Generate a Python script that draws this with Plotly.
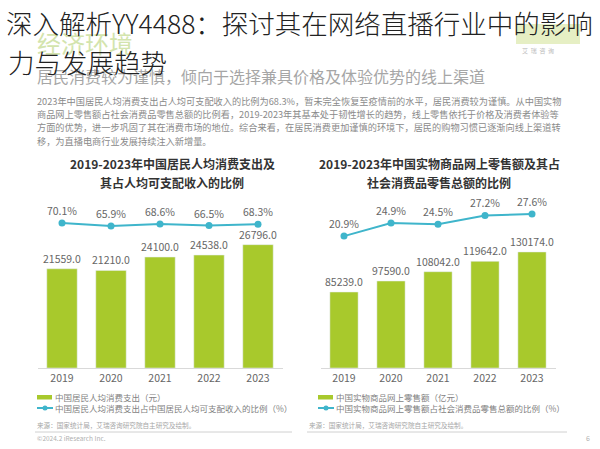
import plotly.graph_objects as go

# ---------------- data ----------------
years = ["2019", "2020", "2021", "2022", "2023"]
consumption = [21559.0, 21210.0, 24100.0, 24538.0, 26796.0]          # 元
consumption_ratio = [70.1, 65.9, 68.6, 66.5, 68.3]                   # %
online_sales = [85239.0, 97590.0, 108042.0, 119642.0, 130174.0]      # 亿元
online_ratio = [20.9, 24.9, 24.5, 27.2, 27.6]                        # %

main_title_1 = "深入解析YY4488：探讨其在网络直播行业中的影响"
main_title_2 = "力与发展趋势"
section = "经济环境"
subtitle = "居民消费较为谨慎，倾向于选择兼具价格及体验优势的线上渠道"
paragraph = [
    "2023年中国居民人均消费支出占人均可支配收入的比例为68.3%，暂未完全恢复至疫情前的水平，居民消费较为谨慎。从中国实物",
    "商品网上零售额占社会消费品零售总额的比例看，2019-2023年其基本处于韧性增长的趋势，线上零售依托于价格及消费者体验等",
    "方面的优势，进一步巩固了其在消费市场的地位。综合来看，在居民消费更加谨慎的环境下，居民的购物习惯已逐渐向线上渠道转",
    "移，为直播电商行业发展持续注入新增量。",
]
left_title = ["2019-2023年中国居民人均消费支出及", "其占人均可支配收入的比例"]
right_title = ["2019-2023年中国实物商品网上零售额及其占", "社会消费品零售总额的比例"]
left_legend = ["中国居民人均消费支出（元）", "中国居民人均消费支出占中国居民人均可支配收入的比例（%）"]
right_legend = ["中国实物商品网上零售额（亿元）", "中国实物商品网上零售额占社会消费品零售总额的比例（%）"]
source = "来源：国家统计局，艾瑞咨询研究院自主研究及绘制。"
copyright_txt = "©2024.2 iResearch Inc."

W, H = 600, 449
FONT = "Noto Sans CJK SC"
BAR = "#a8c92c"
LINE = "#3fb5cb"


def px(x):
    return x / W


def py(y):
    return 1 - y / H


fig = go.Figure()

fig.add_trace(go.Bar(x=years, y=consumption, marker_color=BAR, width=0.62,
                     text=[f"{v:.1f}" for v in consumption], textposition="outside",
                     constraintext="none",
                     textfont=dict(size=10.5, color="#666666"), cliponaxis=False,
                     xaxis="x", yaxis="y", showlegend=False))
fig.add_trace(go.Scatter(x=years, y=consumption_ratio, mode="lines+markers+text",
                         line=dict(color=LINE, width=2), marker=dict(size=7, color=LINE),
                         text=[f"{v:.1f}%" for v in consumption_ratio], textposition="top center",
                         textfont=dict(size=10.5, color="#666666"), cliponaxis=False,
                         xaxis="x", yaxis="y2", showlegend=False))
fig.add_trace(go.Bar(x=years, y=online_sales, marker_color=BAR, width=0.6,
                     text=[f"{v:.1f}" for v in online_sales], textposition="outside",
                     constraintext="none",
                     textfont=dict(size=10.5, color="#666666"), cliponaxis=False,
                     xaxis="x2", yaxis="y3", showlegend=False))
fig.add_trace(go.Scatter(x=years, y=online_ratio, mode="lines+markers+text",
                         line=dict(color=LINE, width=2), marker=dict(size=7, color=LINE),
                         text=[f"{v:.1f}%" for v in online_ratio], textposition="top center",
                         textfont=dict(size=10.5, color="#666666"), cliponaxis=False,
                         xaxis="x2", yaxis="y4", showlegend=False))

ydom = [py(368), py(200)]
xcommon = dict(type="category", showline=True, linecolor="#d9d9d9", linewidth=1,
               showgrid=False, zeroline=False, ticks="",
               tickfont=dict(size=10.5, color="#666666", family=FONT))
ycommon = dict(visible=False, showgrid=False, zeroline=False)

fig.update_layout(
    width=W, height=H, margin=dict(l=0, r=0, t=0, b=0),
    paper_bgcolor="white", plot_bgcolor="rgba(0,0,0,0)",
    font=dict(family=FONT),
    xaxis=dict(domain=[px(37.5), px(282.5)], anchor="y", **xcommon),
    yaxis=dict(domain=ydom, anchor="x", range=[0, 36500], **ycommon),
    yaxis2=dict(overlaying="y", anchor="x", range=[-134, 102.5], **ycommon),
    xaxis2=dict(domain=[px(320.5), px(555.5)], anchor="y3", **xcommon),
    yaxis3=dict(domain=ydom, anchor="x2", range=[0, 188500], **ycommon),
    yaxis4=dict(overlaying="y3", anchor="x2", range=[-19.3, 31.9], **ycommon),
)

ann = []
shapes = []


def text(x, y, s, size, color, anchor="left", bold=False, weight=None):
    f = dict(size=size, color=color, family=FONT)
    if weight is not None:
        f["weight"] = weight
    ann.append(dict(x=px(x), y=py(y), xref="paper", yref="paper", text=(f"<b>{s}</b>" if bold else s),
                    showarrow=False, xanchor=anchor, yanchor="middle", font=f))


# background page elements
shapes.append(dict(type="rect", xref="paper", yref="paper", x0=px(516), x1=px(580), y0=py(44), y1=py(24),
                   fillcolor="#e6efc4", line=dict(width=0), layer="below"))
text(520, 50, "艾  瑞  咨  询", 6, "#bbbbbb")
text(35, 42, section, 24, "#d3e4ad")
text(35, 76, subtitle, 16, "#a6a6a6")
for i, line in enumerate(paragraph):
    text(35, 101 + i * 13.2, line, 9.2, "#8a8a8a")

# chart titles
text(172, 163, left_title[0], 12, "#333333", "center", True)
text(172, 182, left_title[1], 12, "#333333", "center", True)
text(439, 163, right_title[0], 12, "#333333", "center", True)
text(439, 182, right_title[1], 12, "#333333", "center", True)

# legends
for x0, labels in ((37, left_legend), (318, right_legend)):
    shapes.append(dict(type="rect", xref="paper", yref="paper", x0=px(x0), x1=px(x0 + 15),
                       y0=py(399.5), y1=py(395), fillcolor=BAR, line=dict(width=0)))
    shapes.append(dict(type="line", xref="paper", yref="paper", x0=px(x0), x1=px(x0 + 16),
                       y0=py(408), y1=py(408), line=dict(color=LINE, width=2)))
    shapes.append(dict(type="circle", xref="paper", yref="paper", x0=px(x0 + 5.5), x1=px(x0 + 10.5),
                       y0=py(410.5), y1=py(405.5), fillcolor=LINE, line=dict(width=0)))
    text(x0 + 16, 397, labels[0], 8.5, "#7f7f7f")
    text(x0 + 16, 408, labels[1], 8.5, "#7f7f7f")

text(35, 425, source, 6.6, "#a6a6a6")
text(307, 425, source, 6.6, "#a6a6a6")
shapes.append(dict(type="line", xref="paper", yref="paper", x0=px(35), x1=px(292), y0=py(432), y1=py(432),
                   line=dict(color="#d0d0d0", width=1)))
shapes.append(dict(type="line", xref="paper", yref="paper", x0=px(307), x1=px(567), y0=py(432), y1=py(432),
                   line=dict(color="#d0d0d0", width=1)))
text(35, 438, copyright_txt, 6.5, "#b0b0b0")
text(588, 438, "6", 7, "#b0b0b0", "center")

# overlay main title
text(4, 22, main_title_1, 26.5, "#222222", weight=300)
text(6, 62, main_title_2, 26.5, "#222222", weight=300)

fig.update_layout(annotations=ann, shapes=shapes)
fig.write_html("out.html", config={"displayModeBar": False},
               post_script="document.body.style.margin='0';document.body.style.overflow='hidden';")
